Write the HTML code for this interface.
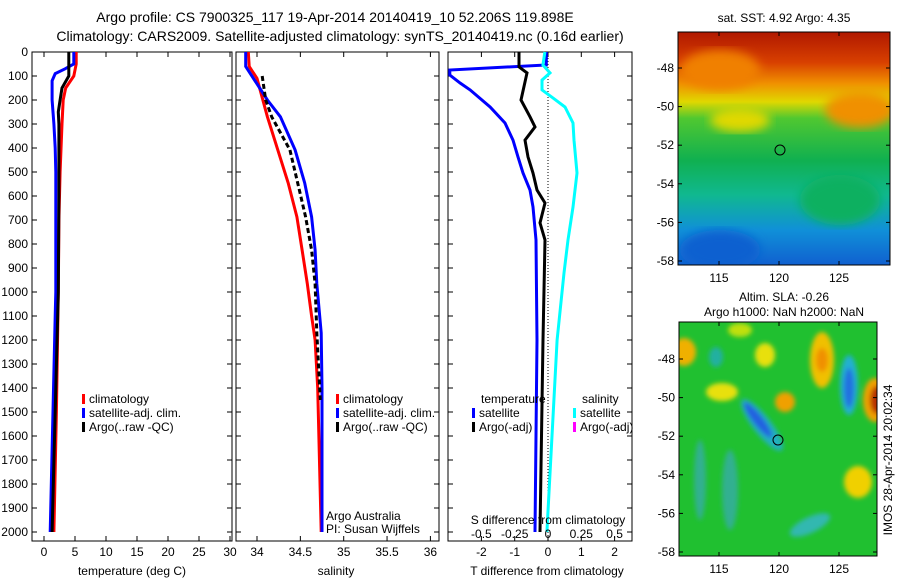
<!DOCTYPE html>
<html><head><meta charset="utf-8"><style>
body{margin:0;background:#fff;}
svg text{font-family:"Liberation Sans",sans-serif;fill:#000;}
</style></head><body>
<svg id="chart" width="900" height="580" xmlns="http://www.w3.org/2000/svg">
<defs>
<linearGradient id="sstg" x1="0" y1="0" x2="0" y2="1">
<stop offset="0" stop-color="#b01800"/><stop offset="0.13" stop-color="#d84000"/><stop offset="0.22" stop-color="#f09000"/><stop offset="0.3" stop-color="#e0d800"/><stop offset="0.37" stop-color="#50c830"/><stop offset="0.55" stop-color="#10b050"/><stop offset="0.7" stop-color="#10b890"/><stop offset="0.85" stop-color="#1090d8"/><stop offset="1" stop-color="#1060d0"/>
</linearGradient>
<filter id="bl"><feGaussianBlur stdDeviation="5"/></filter>
<filter id="bs"><feGaussianBlur stdDeviation="2.5"/></filter>
<clipPath id="m1c"><rect x="678" y="32" width="212" height="233"/></clipPath>
<clipPath id="m2c"><rect x="679" y="322" width="198" height="234"/></clipPath>
</defs>
<text x="335" y="22" font-size="14" text-anchor="middle">Argo profile: CS 7900325_117 19-Apr-2014 20140419_10 52.206S 119.898E</text>
<text x="340" y="41" font-size="14" text-anchor="middle">Climatology: CARS2009. Satellite-adjusted climatology: synTS_20140419.nc (0.16d earlier)</text>
<g id="panels"></g>
<g>
<text x="784" y="22" font-size="12" text-anchor="middle">sat. SST: 4.92 Argo: 4.35</text>
<g clip-path="url(#m1c)">
<rect x="678" y="32" width="212" height="233" fill="url(#sstg)"/>
<ellipse cx="720" cy="70" rx="40" ry="20" fill="#f08000" filter="url(#bl)"/>
<ellipse cx="740" cy="120" rx="30" ry="12" fill="#e0d800" filter="url(#bl)"/>
<ellipse cx="860" cy="110" rx="35" ry="18" fill="#f09000" filter="url(#bl)"/>
<ellipse cx="720" cy="250" rx="40" ry="20" fill="#1060d0" filter="url(#bl)"/>
<ellipse cx="840" cy="200" rx="40" ry="25" fill="#10b060" filter="url(#bl)"/>
</g>
<rect x="678" y="32" width="212" height="233" fill="none" stroke="#000"/>
<circle cx="780" cy="150" r="5" fill="none" stroke="#000"/>
<g id="m1ticks"></g>
</g>
<g>
<text x="784" y="301" font-size="12" text-anchor="middle">Altim. SLA: -0.26</text>
<text x="784" y="316" font-size="12" text-anchor="middle">Argo h1000: NaN h2000: NaN</text>
<g clip-path="url(#m2c)">
<rect x="679" y="322" width="198" height="234" fill="#20c030"/>
<g filter="url(#bs)">
<ellipse cx="684" cy="352" rx="12" ry="14" fill="#f0b000"/>
<ellipse cx="716" cy="357" rx="7" ry="10" fill="#20b0a0"/>
<ellipse cx="765" cy="355" rx="10" ry="12" fill="#e8e010"/>
<ellipse cx="722" cy="392" rx="16" ry="9" fill="#e8e010"/>
<ellipse cx="740" cy="330" rx="12" ry="7" fill="#c0e010"/>
<ellipse cx="822" cy="360" rx="12" ry="28" fill="#f0c000"/>
<ellipse cx="822" cy="360" rx="6" ry="12" fill="#f09000"/>
<ellipse cx="785" cy="402" rx="10" ry="10" fill="#f0a000"/>
<ellipse cx="762" cy="425" rx="9" ry="32" transform="rotate(-38 762 425)" fill="#20b0c0"/>
<ellipse cx="758" cy="420" rx="5" ry="22" transform="rotate(-38 758 420)" fill="#2060e0"/>
<ellipse cx="849" cy="385" rx="9" ry="30" fill="#20b0d0"/>
<ellipse cx="849" cy="388" rx="5" ry="20" fill="#2070e0"/>
<ellipse cx="875" cy="400" rx="12" ry="22" fill="#f0a000"/>
<ellipse cx="877" cy="400" rx="7" ry="14" fill="#b83000"/>
<ellipse cx="858" cy="482" rx="14" ry="16" fill="#f0d000"/>
<ellipse cx="810" cy="525" rx="22" ry="8" transform="rotate(-25 810 525)" fill="#30b8b0"/>
<ellipse cx="700" cy="480" rx="6" ry="40" fill="#30b090"/>
<ellipse cx="730" cy="490" rx="8" ry="40" fill="#30b090"/>
</g>
</g>
<rect x="679" y="322" width="198" height="234" fill="none" stroke="#000"/>
<circle cx="778" cy="440" r="5" fill="none" stroke="#000"/>
<g id="m2ticks"></g>
<text transform="translate(892 460) rotate(-90)" font-size="12" text-anchor="middle">IMOS 28-Apr-2014 20:02:34</text>
</g>
</svg>
<script>
const depthTicks=[0,100,200,300,400,500,600,700,800,900,1000,1100,1200,1300,1400,1500,1600,1700,1800,1900,2000];
const tempTicks=[0,5,10,15,20,25,30];
const salTicks=[34,34.5,35,35.5,36];
const dTTicks=[-2,-1,0,1,2];
const dSTicks=[-0.5,-0.25,0,0.25,0.5];
const dSLabels=["-0.5","-0.25","0","0.25","0.5"];
const tDepth=[0,50,100,150,200,300,500,700,1000,1500,2000];
const tClim=[5.2,5.2,4.8,3.5,3.1,2.9,2.6,2.4,2.3,2.0,1.6];
const tSatDepth=[0,50,70,90,120,200,250,300,400,500,1000,1100,2000];
const tSat=[4.8,4.8,3.4,1.8,1.3,1.3,1.45,1.6,1.8,1.9,1.9,1.8,1.0];
const tArgoDepth=[0,100,150,200,250,300,400,600,1000,2000];
const tArgo=[4.0,4.0,2.9,2.6,2.3,2.4,2.4,2.4,2.3,1.3];
const sDepth=[0,60,200,270,408,546,687,825,965,1170,1400,2000];
const sSat=[33.87,33.87,34.12,34.27,34.44,34.55,34.63,34.67,34.69,34.74,34.75,34.75];
const sClimDepth=[0,60,110,270,408,546,687,825,965,1100,1200,1400,2000];
const sClim=[33.9,33.91,34.0,34.12,34.24,34.36,34.46,34.52,34.58,34.63,34.67,34.7,34.74];
const sArgoDepth=[100,200,270,408,546,687,825,965,1170,1450];
const sArgo=[34.06,34.1,34.17,34.38,34.47,34.56,34.63,34.67,34.69,34.73];
const dDepthA=[0,54,75,96,129,158,229,296,367,437,504,575,646,783,1200,2000];
const dTSat=[-0.05,-0.05,-2.95,-2.95,-2.64,-2.34,-1.74,-1.29,-1.05,-0.9,-0.75,-0.54,-0.45,-0.36,-0.33,-0.39];
const dDepthB=[0,62,87,200,270,312,367,437,504,575,629,712,783,1200,2000];
const dTArgo=[-0.87,-0.87,-0.63,-0.81,-0.54,-0.39,-0.69,-0.6,-0.45,-0.33,-0.09,-0.24,-0.09,-0.15,-0.24];
const dDepthC=[0,54,87,117,158,192,229,296,367,504,646,783,921,1200,2000];
const dSSat=[-0.023,-0.038,0.015,-0.045,-0.045,0.038,0.128,0.188,0.195,0.218,0.188,0.15,0.12,0.068,-0.008];
const latTicks=[-48,-50,-52,-54,-56,-58];
const lonTicks=[115,120,125];

const NS='http://www.w3.org/2000/svg';
const root=document.getElementById('panels');
const yD=d=>52+d*0.24;
function mk(tag,attrs,parent){const e=document.createElementNS(NS,tag);for(const k in attrs)e.setAttribute(k,attrs[k]);(parent||root).appendChild(e);return e;}
function txt(s,x,y,anchor,size,parent){const t=mk('text',{x:x,y:y,'text-anchor':anchor||'middle','font-size':size||12},parent);t.textContent=s;return t;}
function line(xs,ds,sx,color,w,name,dash){
 let p='';for(let i=0;i<xs.length;i++)p+=(i?'L':'M')+sx(xs[i]).toFixed(1)+','+yD(ds[i]).toFixed(1);
 const e=mk('path',{d:p,fill:'none',stroke:color,'stroke-width':w||3});
 if(dash)e.setAttribute('stroke-dasharray',dash);
 
 
}
function frame(x0,x1,name){const r=mk('rect',{x:x0,y:52,width:x1-x0,height:489,fill:'none',stroke:'#000'});
 }
function xticks(vals,labels,sx,ty,ly){vals.forEach((v,i)=>{const x=sx(v);mk('line',{x1:x,x2:x,y1:52,y2:57,stroke:'#000'});mk('line',{x1:x,x2:x,y1:541,y2:536,stroke:'#000'});
 const t=txt(labels[i],x,ly);});}
function yticks(x0,x1,lab){depthTicks.forEach(d=>{const y=yD(d);mk('line',{x1:x0,x2:x0+5,y1:y,y2:y,stroke:'#000'});mk('line',{x1:x1,x2:x1-5,y1:y,y2:y,stroke:'#000'});
 if(lab){const t=txt(String(d),x0-4,y+4,'end');}});}
function legendItem(x,y,color,label){mk('rect',{x:x,y:y-9,width:3,height:10,fill:color});const t=txt(label,x+7,y,'start');
 }

// Panel 1 temperature
const sxT=t=>44+6.2*t;
frame(32,232,'temperature-panel');yticks(32,232,true);
xticks(tempTicks,tempTicks.map(String),sxT,0,556);
txt('temperature (deg C)',132,575);
line(tClim,tDepth,sxT,'#ff0000',3,'temp-climatology-line');
line(tSat,tSatDepth,sxT,'#0000ff',3,'temp-satellite-line');
line(tArgo,tArgoDepth,sxT,'#000',3,'temp-argo-line');
legendItem(82,403,'#ff0000','climatology');legendItem(82,417,'#0000ff','satellite-adj. clim.');legendItem(82,431,'#000','Argo(..raw -QC)');

// Panel 2 salinity
const sxS=s=>257+86.7*(s-34);
frame(236,439,'salinity-panel');yticks(236,439,false);
xticks(salTicks,salTicks.map(String),sxS,0,556);
txt('salinity',336,575);
line(sClim,sClimDepth,sxS,'#ff0000',3,'sal-climatology-line');
line(sSat,sDepth,sxS,'#0000ff',3,'sal-satellite-line');
line(sArgo,sArgoDepth,sxS,'#000',3,'sal-argo-line','5,3');
legendItem(336,403,'#ff0000','climatology');legendItem(336,417,'#0000ff','satellite-adj. clim.');legendItem(336,431,'#000','Argo(..raw -QC)');
txt('Argo Australia',326,520,'start');txt('PI: Susan Wijffels',326,533,'start');

// Panel 3 differences
const sxD=t=>548+33.3*t;
const sxDS=s=>548+133.2*s;
frame(448,632,'difference-panel');yticks(448,632,false);
dTTicks.forEach(v=>{const x=sxD(v);mk('line',{x1:x,x2:x,y1:52,y2:57,stroke:'#000'});mk('line',{x1:x,x2:x,y1:541,y2:536,stroke:'#000'});const t=txt(String(v),x,556);});
mk('line',{x1:548,x2:548,y1:52,y2:541,stroke:'#000','stroke-dasharray':'1,2'});
line(dTSat,dDepthA,sxD,'#0000ff',3,'t-diff-satellite-line');
line(dTArgo,dDepthB,sxD,'#000',3,'t-diff-argo-line');
line(dSSat,dDepthC,sxDS,'#00ffff',3,'s-diff-satellite-line');
dSTicks.forEach((v,i)=>{const t=txt(dSLabels[i],sxDS(v),538);});
txt('S difference from climatology',548,524);
txt('T difference from climatology',547,575);
txt('temperature',481,403,'start');txt('salinity',582,403,'start');
legendItem(472,417,'#0000ff','satellite');legendItem(472,431,'#000','Argo(-adj)');
legendItem(573,417,'#00ffff','satellite');legendItem(573,431,'#ff00ff','Argo(-adj)');

// map ticks
function mapTicks(g,x0,x1,y0,y1,yOf,xOf){const G=document.getElementById(g);
 latTicks.forEach(v=>{const y=yOf(v);if(y<y0-1||y>y1+1)return;mk('line',{x1:x0,x2:x0+4,y1:y,y2:y,stroke:'#000'},G);mk('line',{x1:x1,x2:x1-4,y1:y,y2:y,stroke:'#000'},G);const t=txt(String(v),x0-4,y+4,'end',12,G);});
 lonTicks.forEach(v=>{const x=xOf(v);mk('line',{x1:x,x2:x,y1:y1,y2:y1-4,stroke:'#000'},G);mk('line',{x1:x,x2:x,y1:y0,y2:y0+4,stroke:'#000'},G);const t=txt(String(v),x,y1+17,'middle',12,G);});}
mapTicks('m1ticks',678,890,32,265,v=>68+(-48-v)*19.3,v=>719+(v-115)*12);
mapTicks('m2ticks',679,877,322,556,v=>359+(-48-v)*19.3,v=>719+(v-115)*12);
</script>
</body></html>
